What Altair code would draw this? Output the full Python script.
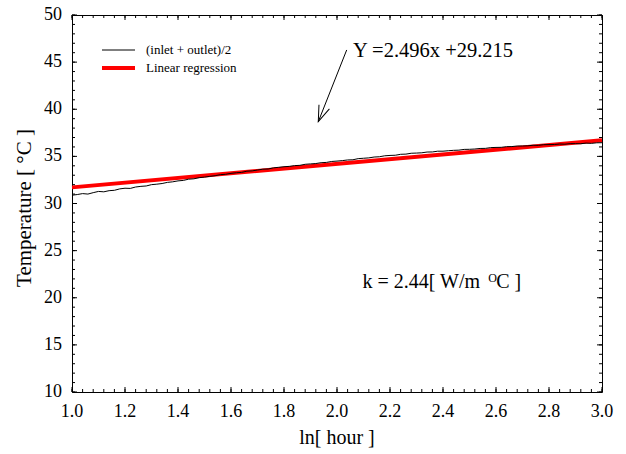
import altair as alt
import pandas as pd

FONT = "Liberation Serif"
W, H = 530, 377

# averaged (inlet + outlet)/2 temperature record against ln(hour)
avg_x = [
    1.00, 1.02, 1.04, 1.06, 1.08, 1.10, 1.12, 1.14, 1.16, 1.18,
    1.20, 1.22, 1.24, 1.26, 1.28, 1.30, 1.32, 1.34, 1.36, 1.38,
    1.40, 1.42, 1.44, 1.46, 1.48, 1.50, 1.52, 1.54, 1.56, 1.58,
    1.60, 1.62, 1.64, 1.66, 1.68, 1.70, 1.72, 1.74, 1.76, 1.78,
    1.80, 1.82, 1.84, 1.86, 1.88, 1.90, 1.92, 1.94, 1.96, 1.98,
    2.00, 2.02, 2.04, 2.06, 2.08, 2.10, 2.12, 2.14, 2.16, 2.18,
    2.20, 2.22, 2.24, 2.26, 2.28, 2.30, 2.32, 2.34, 2.36, 2.38,
    2.40, 2.42, 2.44, 2.46, 2.48, 2.50, 2.52, 2.54, 2.56, 2.58,
    2.60, 2.62, 2.64, 2.66, 2.68, 2.70, 2.72, 2.74, 2.76, 2.78,
    2.80, 2.82, 2.84, 2.86, 2.88, 2.90, 2.92, 2.94, 2.96, 2.98,
    3.00,
]
avg_temp = [
    30.88, 30.95, 31.05, 31.00, 31.15, 31.28, 31.24, 31.36, 31.40, 31.55,
    31.62, 31.60, 31.75, 31.82, 31.86, 32.00, 32.05, 32.12, 32.24, 32.30,
    32.40, 32.45, 32.58, 32.62, 32.74, 32.80, 32.88, 32.95, 33.06, 33.10,
    33.20, 33.26, 33.30, 33.43, 33.46, 33.55, 33.64, 33.66, 33.78, 33.84,
    33.90, 33.94, 34.02, 34.05, 34.16, 34.20, 34.24, 34.33, 34.36, 34.46,
    34.50, 34.55, 34.62, 34.64, 34.76, 34.80, 34.84, 34.93, 34.96, 35.06,
    35.10, 35.12, 35.22, 35.24, 35.33, 35.35, 35.38, 35.46, 35.47, 35.55,
    35.55, 35.60, 35.64, 35.66, 35.74, 35.75, 35.78, 35.84, 35.85, 35.93,
    35.95, 35.96, 36.03, 36.04, 36.10, 36.10, 36.12, 36.18, 36.17, 36.24,
    36.25, 36.26, 36.31, 36.29, 36.35, 36.35, 36.34, 36.41, 36.38, 36.44,
    36.45,
]

# linear regression of the record
slope, intercept = 2.496, 29.215
fit_x = [1.0, 3.0]
k_value = 2.44

series_names = ["(inlet + outlet)/2", "Linear regression"]
series_colors = ["#000000", "#ff0000"]
series_widths = [1, 4]

x_title = "ln[ hour ]"
y_title = "Temperature [ °C ]"
x_major = [1.0, 1.2, 1.4, 1.6, 1.8, 2.0, 2.2, 2.4, 2.6, 2.8, 3.0]
x_minor = [round(1.0 + 0.04 * i, 2) for i in range(51)]
y_major = [10, 15, 20, 25, 30, 35, 40, 45, 50]
y_minor = list(range(10, 51))

avg_df = pd.DataFrame({"x": avg_x, "y": avg_temp, "series": series_names[0]})
fit_df = pd.DataFrame({"x": fit_x, "series": series_names[1]})

x_scale = alt.Scale(domain=[1, 3], nice=False, zero=False)
y_scale = alt.Scale(domain=[10, 50], nice=False, zero=False)


def X(field):
    return alt.X(field, type="quantitative", scale=x_scale, axis=None)


def Y(field):
    return alt.Y(field, type="quantitative", scale=y_scale, axis=None)


legend = alt.Legend(
    title=None, orient="none", legendX=28, legendY=26, padding=0,
    symbolType="stroke", symbolSize=1089, clipHeight=18, rowPadding=0,
    labelFont=FONT, labelFontSize=13, labelColor="#000", labelOffset=9,
)
color = alt.Color("series:N", scale=alt.Scale(domain=series_names, range=series_colors), legend=legend)
width_enc = alt.StrokeWidth(
    "series:N", scale=alt.Scale(domain=series_names, range=series_widths), legend=legend
)

# regression line first so the measured record sits on top of it
fit = alt.Chart(fit_df).transform_calculate(
    y=f"{slope} * datum.x + {intercept}"
).mark_line().encode(x=X("x"), y=Y("y"), color=color, strokeWidth=width_enc)

record = alt.Chart(avg_df).mark_line().encode(
    x=X("x"), y=Y("y"), color=color, strokeWidth=width_enc
)


def x_ticks(values, length):
    """Inward ticks on the bottom and top frame edges."""
    base = alt.Chart(pd.DataFrame({"v": values})).mark_rule(color="#000", strokeWidth=1)
    bottom = base.encode(x=X("v"), y=alt.value(H), y2=alt.value(H - length))
    top = base.encode(x=X("v"), y=alt.value(0), y2=alt.value(length))
    return [bottom, top]


def y_ticks(values, length):
    """Inward ticks on the left and right frame edges."""
    base = alt.Chart(pd.DataFrame({"v": values})).mark_rule(color="#000", strokeWidth=1)
    left = base.encode(y=Y("v"), x=alt.value(0), x2=alt.value(length))
    right = base.encode(y=Y("v"), x=alt.value(W), x2=alt.value(W - length))
    return [left, right]


ticks = x_ticks(x_minor, 3) + x_ticks(x_major, 5) + y_ticks(y_minor, 3) + y_ticks(y_major, 5)

# tick labels and axis titles, set as text around the frame
x_labels = alt.Chart(pd.DataFrame({"v": x_major})).mark_text(
    font=FONT, fontSize=18, baseline="middle", align="center", color="#000"
).encode(x=X("v"), y=alt.value(H + 20), text=alt.Text("v:Q", format=".1f"))

y_labels = alt.Chart(pd.DataFrame({"v": y_major})).mark_text(
    font=FONT, fontSize=18, baseline="middle", align="right", color="#000"
).encode(y=Y("v"), x=alt.value(-10), text=alt.Text("v:Q", format="d"))

x_title_mark = alt.Chart(pd.DataFrame({"t": [x_title]})).mark_text(
    font=FONT, fontSize=20, baseline="middle", align="center", color="#000"
).encode(x=alt.value(W / 2), y=alt.value(H + 46), text="t:N")

y_title_mark = alt.Chart(pd.DataFrame({"t": [y_title]})).mark_text(
    font=FONT, fontSize=21, baseline="middle", align="center", angle=270, color="#000"
).encode(x=alt.value(-47), y=alt.value(193), text="t:N")


def note(x, y, text, size, align="left"):
    return alt.Chart(pd.DataFrame({"x": [x], "y": [y], "t": [text]})).mark_text(
        font=FONT, fontSize=size, align=align, baseline="alphabetic", color="#000"
    ).encode(x=X("x"), y=Y("y"), text="t:N")


equation = note(2.060, 45.54, f"Y ={slope}x +{intercept}", 20.5)
k_main = note(2.540, 21.03, f"k = {k_value}[ W/m", 20, align="right")
k_sup = note(2.5705, 21.67, "O", 12)
k_unit = note(2.6005, 21.03, "C ]", 20)

arrow_df = pd.DataFrame({"x": [2.0366], "y": [46.29], "x2": [1.9294], "y2": [38.68]})
arrow_shaft = alt.Chart(arrow_df).mark_rule(color="#000", strokeWidth=1).encode(
    x=X("x"), y=Y("y"), x2="x2:Q", y2="y2:Q",
)
arrow_head = alt.Chart(arrow_df).mark_point(
    shape="M -0.35 -1 L 0 0 L 0.35 -1", filled=False, color="#000",
    strokeWidth=1, size=1024, angle=21.6, opacity=1,
).encode(x=X("x2"), y=Y("y2"))

chart = alt.layer(
    fit, record, *ticks, x_labels, y_labels, x_title_mark, y_title_mark,
    equation, k_main, k_sup, k_unit, arrow_shaft, arrow_head
).properties(
    width=W, height=H, autosize="none",
    padding={"left": 72, "top": 15, "right": 24, "bottom": 62},
    background="white",
).configure_view(stroke="#000", strokeWidth=1)

chart.save("out.html", embed_options={"renderer": "svg", "actions": False})
